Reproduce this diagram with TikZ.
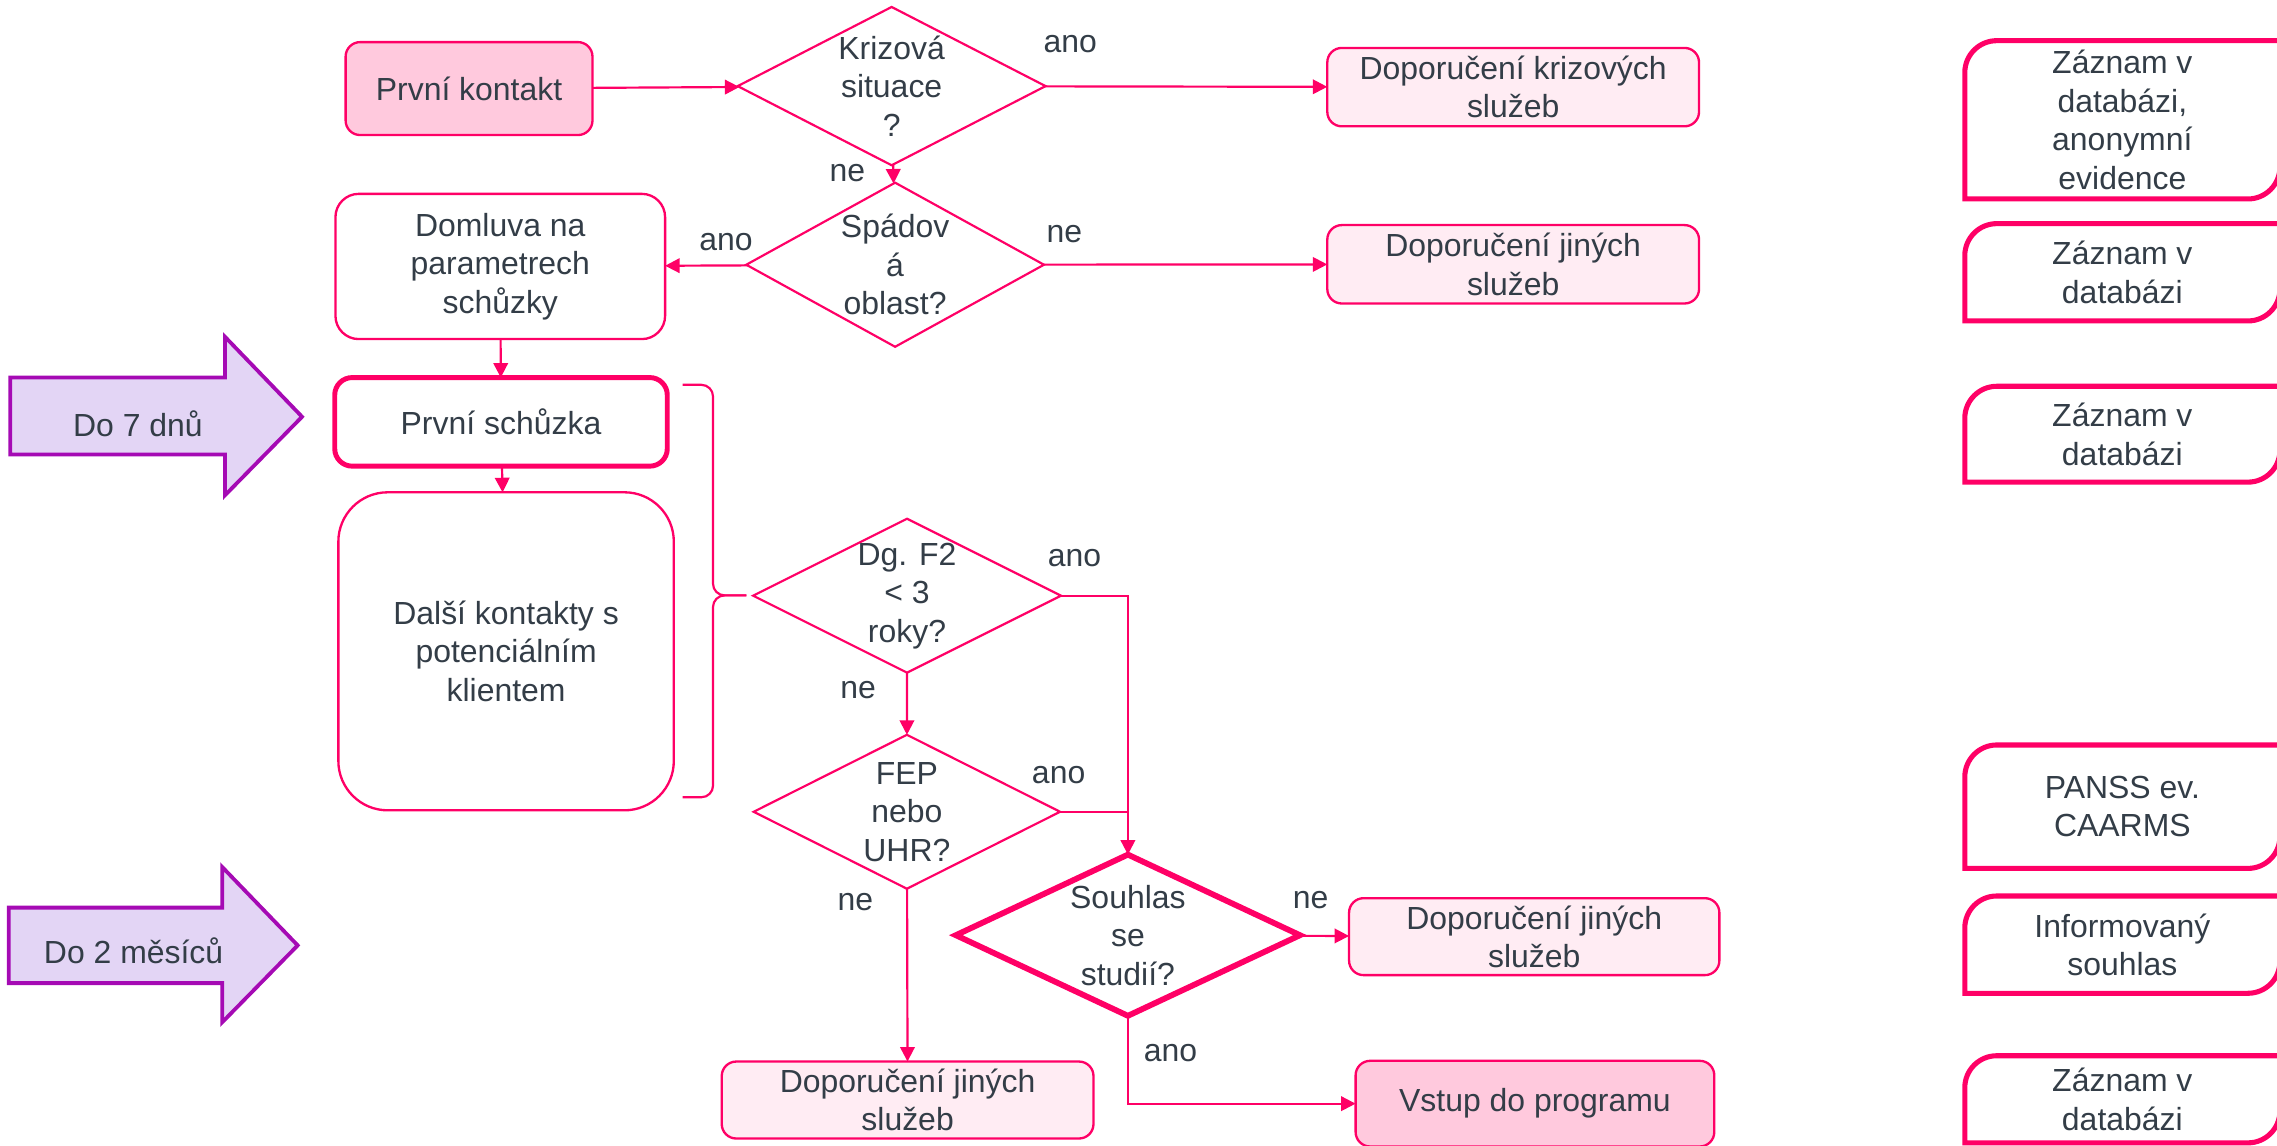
\documentclass[tikz,border=0pt]{standalone}
\usepackage{fontspec}
\setmainfont{Liberation Sans}
\usetikzlibrary{shapes.geometric,arrows.meta}
\definecolor{pinkline}{HTML}{FF0066}
\definecolor{pinkfill}{HTML}{FFC9DD}
\definecolor{pinklight}{HTML}{FFECF3}
\definecolor{txtgray}{HTML}{333D47}
\definecolor{lilacfill}{HTML}{E3D5F5}
\definecolor{lilacline}{HTML}{A50AB4}

\begin{document}
\begin{tikzpicture}[x=1pt, y=-1pt,
    every node/.style={font=\fontsize{22}{26.5}\selectfont, text=txtgray, inner sep=0pt, outer sep=0pt, align=center},
    box/.style={draw=pinkline, line width=1.6pt, rounded corners=10pt},
    dec/.style={diamond, draw=pinkline, line width=1.5pt},
    conn/.style={draw=pinkline, line width=1.5pt, -{Triangle[length=10pt, width=10pt]}},
    recline/.style={draw=pinkline, line width=3.5pt},
    bracket/.style={draw=pinkline, line width=1.5pt, rounded corners=8pt},
    timearrow/.style={draw=lilacline, fill=lilacfill, line width=2.6pt}
  ]
      \useasboundingbox (0,0) rectangle (1568,789);

      % decisions
      \node[dec, minimum width=212pt, minimum height=109pt] (krize) at (614,59.3) {};
      \node (krizeTxt) at (krize) {Krizová\\situace\\?};
      \node[dec, minimum width=205pt, minimum height=113pt] (spad) at (616.4,182.3) {};
      \node (spadTxt) at (spad) {Spádov\\á\\oblast?};
      \node[dec, minimum width=212pt, minimum height=106pt] (dg) at (624.6,410.2) {};
      \node (dgTxt) at (dg) {Dg. F2\\< 3\\roky?};
      \node[dec, minimum width=211pt, minimum height=106pt] (fep) at (624.5,559) {};
      \node (fepTxt) at (fep) {FEP\\nebo\\UHR?};
      \node[dec, line width=4pt, minimum width=237pt, minimum height=111pt] (souhlas) at (776.7,644) {};
      \node (souhlasTxt) at (souhlas) {Souhlas\\se\\studií?};

      % steps
      \node[box, fill=pinkfill, minimum width=170pt, minimum height=64pt] (kontakt) at (323,61) {První kontakt};
      \node[box, fill=pinklight, minimum width=256pt, minimum height=54pt] (dokriz) at (1042,60) {Doporučení krizových\\služeb};
      \node[box, fill=pinklight, minimum width=256pt, minimum height=54pt] (dojin1) at (1042,182) {Doporučení jiných\\služeb};
      \node[box, rounded corners=16pt, minimum width=227pt, minimum height=100pt] (domluva) at (344.5,183.5) {Domluva na\\parametrech\\schůzky};
      \node[box, line width=3.4pt, rounded corners=12pt, minimum width=229pt, minimum height=61pt] (schuz1) at (345,290.5) {První schůzka};
      \node[box, rounded corners=34pt, minimum width=231pt, minimum height=219pt] (dalsi) at (348.5,448.5) {Další kontakty s\\potenciálním\\klientem};
      \node[box, fill=pinklight, minimum width=255pt, minimum height=53pt] (dojin2) at (1056.5,645) {Doporučení jiných\\služeb};
      \node[box, fill=pinklight, minimum width=256pt, minimum height=53pt] (dojin3) at (625,757.5) {Doporučení jiných\\služeb};
      \node[box, fill=pinkfill, minimum width=247pt, minimum height=59pt] (vstup) at (1057,760) {Vstup do programu};

      % records on the right
      \node[minimum width=217pt, minimum height=109pt] (zaz1) at (1461.5,82.5) {Záznam v\\databázi,\\anonymní\\evidence};
      \node[minimum width=217pt, minimum height=67pt] (zaz2) at (1461.5,187.5) {Záznam v\\databázi};
      \node[minimum width=217pt, minimum height=66pt] (zaz3) at (1461.5,299) {Záznam v\\databázi};
      \node[minimum width=217pt, minimum height=85pt] (panss) at (1461.5,555.5) {PANSS ev.\\CAARMS};
      \node[minimum width=217pt, minimum height=67pt] (inform) at (1461.5,650.5) {Informovaný\\souhlas};
      \node[minimum width=217pt, minimum height=60pt] (zaz4) at (1461.5,757) {Záznam v\\databázi};
      \foreach \n in {zaz1,zaz2,zaz3,panss,inform,zaz4}
        \draw[recline] (\n.south west) -- ([yshift=-22pt]\n.north west) arc[start angle=180, end angle=90, radius=22pt]
          -- (\n.north east) -- ([yshift=22pt]\n.south east) arc[start angle=0, end angle=-90, radius=22pt] -- cycle;

      % time arrows
      \draw[timearrow] (7,260) -- (155,260) -- (155,232) -- (208,287) -- (155,341) -- (155,313) -- (7,313) -- cycle;
      \node (do7) at (95,292) {Do 7 dnů};
      \draw[timearrow] (6,625) -- (153,625) -- (153,597) -- (205,651) -- (153,704) -- (153,677) -- (6,677) -- cycle;
      \node (do2) at (92,655) {Do 2 měsíců};

      % brace
      \coordinate (braceTop) at (470,265);
      \coordinate (braceBot) at (470,549);
      \coordinate (braceTip) at (514,410);
      \draw[bracket] (braceTop) -- ++(21,0) |- (braceTip);
      \draw[bracket] (braceBot) -- ++(21,0) |- (braceTip);

      % flow
      \draw[conn] (kontakt) -- (krize);
      \draw[conn] (krize) -- (dokriz);
      \draw[conn] (krize) -- (spad);
      \draw[conn] (spad) -- (domluva);
      \draw[conn] (spad) -- (dojin1);
      \draw[conn] (domluva) -- (schuz1);
      \draw[conn] (schuz1) -- (dalsi);
      \draw[conn] (dg.east) -| (souhlas.north);
      \draw[pinkline, line width=1.5pt] (fep.east) -- (fep.east -| souhlas.north);
      \draw[conn] (dg) -- (fep);
      \draw[conn] (fep) -- (dojin3);
      \draw[conn] (souhlas) -- (dojin2);
      \draw[conn] (souhlas.south) |- (vstup.west);

      % answers
      \node (kAno) at (737,30) {ano};
      \node (kNe) at (583.5,119.5) {ne};
      \node (sAno) at (500,167) {ano};
      \node (sNe) at (733,161) {ne};
      \node (dAno) at (740,384) {ano};
      \node (dNe) at (591,475.5) {ne};
      \node (fAno) at (729,534) {ano};
      \node (fNe) at (589,621.5) {ne};
      \node (uNe) at (902.5,619.5) {ne};
      \node (uAno) at (806,725) {ano};
\end{tikzpicture}
\end{document}
